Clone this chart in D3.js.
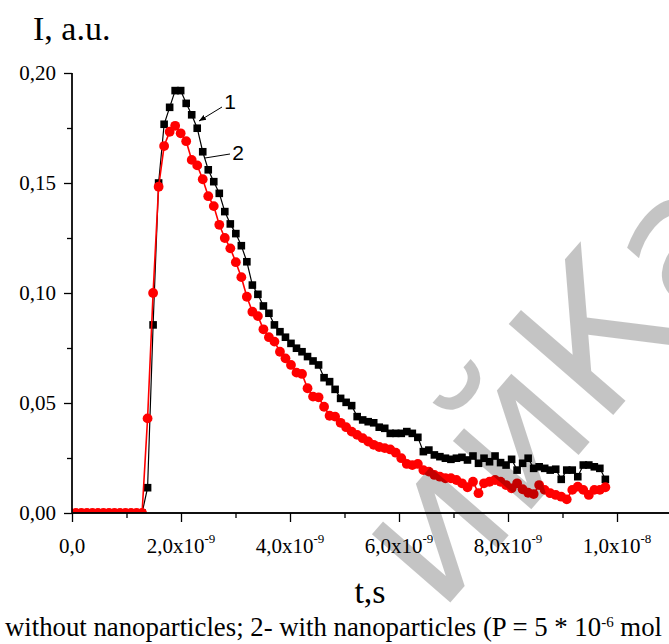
<!DOCTYPE html>
<html><head><meta charset="utf-8">
<script src="https://cdn.jsdelivr.net/npm/d3@7/dist/d3.min.js"></script>
</head><body style="margin:0;background:#fff">
<script>
// ---- data ----
const timeStart = -0.03e-9;   // s, first sample
const timeStep = 0.1012e-9;   // s, sampling interval
const series1 = [ // without nanoparticles (black squares)
 0,0,0,0,0,0,0,0,0,0,0,0,0,0,
 0.0115,0.0855,0.150,0.1767,0.1844,0.192,0.192,0.1862,0.181,0.1749,
 0.1642,0.156,0.1506,0.1453,0.137,0.1314,0.127,0.1215,0.1142,0.1036,
 0.0994,0.0941,0.0908,0.0855,0.0824,0.0799,0.0771,0.0749,0.0733,0.0711,
 0.0691,0.0673,0.0615,0.0597,0.0562,0.0521,0.0503,0.0488,0.0438,0.0423,
 0.0415,0.041,0.039,
 0.0385,0.0362,0.0362,0.0362,0.037,0.0362,0.0344,0.0279,0.0286,0.0264,
 0.0256,0.0249,0.0244,0.0249,0.0253,0.0241,0.0259,0.0226,0.0249,0.0233,
 0.0259,0.0229,0.0218,0.0244,0.0195,0.0226,0.0249,0.0203,0.021,0.0203,
 0.0195,0.0199,0.0153,0.0195,0.0195,0.0165,0.0218,0.0218,0.021,0.0203,
 0.0153
];
const series2 = [ // with nanoparticles (red circles)
 0,0,0,0,0,0,0,0,0,0,0,0,0,0,
 0.043,0.100,0.1483,0.1668,0.1733,0.176,0.1726,0.169,0.1605,0.158,
 0.1517,0.144,0.1395,0.131,0.125,0.1203,0.114,0.1072,0.0983,0.0915,
 0.0895,0.0835,0.0799,0.0779,0.0733,0.0703,0.0673,0.0638,0.0632,0.0567,
 0.0529,0.0526,0.0483,0.0442,0.0438,0.041,0.039,0.037,0.0355,0.034,
 0.0325,0.031,0.030,0.0295,
 0.0289,0.0274,0.0249,0.0223,0.0218,0.0223,0.0195,0.0188,0.0173,0.0165,
 0.0158,0.0158,0.015,0.0135,0.0117,0.0142,0.009,0.0135,0.0142,0.015,
 0.0142,0.0127,0.0112,0.0135,0.0108,0.0092,0.0086,0.0127,0.0105,0.009,
 0.0082,0.0074,0.0062,0.0105,0.012,0.0105,0.0082,0.0105,0.0105,0.0117
];
const xMajorTicks = [0, 2e-9, 4e-9, 6e-9, 8e-9, 1e-8];
const xTickMantissa = ["0,0", "2,0x10", "4,0x10", "6,0x10", "8,0x10", "1,0x10"];
const xTickExponent = ["", "-9", "-9", "-9", "-9", "-8"];
const xMinorTicks = [1e-9, 3e-9, 5e-9, 7e-9, 9e-9];
const yMajorTicks = [0, 0.05, 0.10, 0.15, 0.20];
const yTickLabels = ["0,00", "0,05", "0,10", "0,15", "0,20"];
const yMinorTicks = [0.025, 0.075, 0.125, 0.175];
const yTitle = "I, a.u.";
const xTitle = "t,s";
const caption = ["without nanoparticles; 2- with nanoparticles (P = 5 * 10", "-6", " mol"];
const curveLabels = ["1", "2"];
const watermarkLeft = "ий ";
const watermarkRight = "Ка";

// ---- drawing ----
const SERIF = "Liberation Serif";
const SANS = "Liberation Sans";
function setFont(sel, fam) { return sel.attr("font-family", fam).style("font-family", `"${fam}"`); }
const W = 669, H = 644;
const svg = d3.select("body").append("svg").attr("width", W).attr("height", H).style("display", "block");
const x = d3.scaleLinear().domain([0, 1.1e-8]).range([72, 671.5]);
const y = d3.scaleLinear().domain([0, 0.20]).range([513, 73]);

const t = series1.map((_, i) => timeStart + i * timeStep);
const d1 = series1.map((v, i) => [t[i], v]);
const d2 = series2.map((v, i) => [t[i], v]);

svg.append("clipPath").attr("id", "plot").append("rect")
  .attr("x", 72).attr("y", 0).attr("width", W - 72).attr("height", 513);

const g = svg.append("g").attr("clip-path", "url(#plot)");
const line = d3.line().x(d => x(d[0])).y(d => y(d[1]));
g.append("path").datum(d1).attr("d", line).attr("fill", "none").attr("stroke", "#000").attr("stroke-width", 1.2);
g.selectAll("rect.s1").data(d1).join("rect").attr("class", "s1")
  .attr("x", d => x(d[0]) - 3.8).attr("y", d => y(d[1]) - 3.8)
  .attr("width", 7.6).attr("height", 7.6).attr("fill", "#000");
g.append("path").datum(d2).attr("d", line).attr("fill", "none").attr("stroke", "#ff0000").attr("stroke-width", 1.6);
g.selectAll("circle.s2").data(d2).join("circle").attr("class", "s2")
  .attr("cx", d => x(d[0])).attr("cy", d => y(d[1])).attr("r", 4.9).attr("fill", "#ff0000");

// axes
const xAxis = svg.append("g").attr("transform", "translate(0,513)");
xAxis.call(d3.axisBottom(x).tickValues(xMajorTicks).tickSize(9).tickFormat(""));
xAxis.append("g").call(d3.axisBottom(x).tickValues(xMinorTicks).tickSize(5).tickFormat(""));
xAxis.selectAll("path").attr("stroke", "#000").attr("stroke-width", 1.3);
xAxis.selectAll("line").attr("stroke", "#000").attr("stroke-width", 1.3);
xAxis.selectAll(".domain").attr("d", `M${x(0)},0H${W}`);

const yAxis = svg.append("g").attr("transform", "translate(72,0)");
yAxis.call(d3.axisLeft(y).tickValues(yMajorTicks).tickSize(8).tickFormat(""));
yAxis.append("g").call(d3.axisLeft(y).tickValues(yMinorTicks).tickSize(5).tickFormat(""));
yAxis.selectAll("path").attr("stroke", "#000").attr("stroke-width", 1.3);
yAxis.selectAll("line").attr("stroke", "#000").attr("stroke-width", 1.3);
yAxis.selectAll(".domain").attr("d", `M0,${y(0.2)}V${y(0)}`);

// watermark (drawn first so it sits under the labels, translucent over marks)
const wm = svg.append("g").attr("transform", "translate(601,429) rotate(-49)")
  .attr("font-size", 190).attr("fill", "#000").attr("fill-opacity", 0.23);
setFont(wm.append("text").attr("text-anchor", "start"), "DejaVu Sans").text(watermarkRight);
setFont(wm.append("text").attr("text-anchor", "end"), "DejaVu Sans").text(watermarkLeft);

// tick labels
const xl = svg.append("g").selectAll("text").data(xMajorTicks).join("text")
  .attr("x", d => x(d)).attr("y", 553).attr("text-anchor", "middle")
  .attr("font-size", 21)
  .each(function(d, i) {
    const s = d3.select(this);
    s.append("tspan").text(xTickMantissa[i]);
    if (xTickExponent[i]) s.append("tspan").attr("dy", -10).attr("font-size", 13).text(xTickExponent[i]);
  });
setFont(xl, SERIF);
const yl = svg.append("g").selectAll("text").data(yMajorTicks).join("text")
  .attr("x", 56).attr("y", d => y(d) + 7).attr("text-anchor", "end")
  .attr("font-size", 21).text((d, i) => yTickLabels[i]);
setFont(yl, SERIF);

// titles
setFont(svg.append("text"), SERIF).attr("x", 33).attr("y", 40).attr("font-size", 34).text(yTitle);
setFont(svg.append("text"), SERIF).attr("x", 370).attr("y", 603).attr("text-anchor", "middle").attr("font-size", 34).text(xTitle);
const cap = setFont(svg.append("text"), SERIF).attr("x", 5).attr("y", 636).attr("font-size", 24);
cap.append("tspan").text(caption[0]);
cap.append("tspan").attr("dy", -9).attr("font-size", 15).text(caption[1]);
cap.append("tspan").attr("dy", 9).text(caption[2]);
// fit caption to the visible width as in the reference
const capW = cap.node().getComputedTextLength();
if (capW > 0) cap.attr("font-size", 24 * 659 / capW);

// curve labels with leader lines
svg.append("defs").append("marker").attr("id", "arr").attr("viewBox", "0 0 10 10")
  .attr("refX", 10).attr("refY", 5).attr("markerWidth", 7).attr("markerHeight", 7).attr("orient", "auto")
  .append("path").attr("d", "M0,1L10,5L0,9z").attr("fill", "#000");
svg.append("line").attr("x1", 222).attr("y1", 107).attr("x2", 199).attr("y2", 121)
  .attr("stroke", "#000").attr("stroke-width", 1).attr("marker-end", "url(#arr)");
setFont(svg.append("text"), SANS).attr("x", 230).attr("y", 109).attr("text-anchor", "middle").attr("font-size", 21).text(curveLabels[0]);
svg.append("line").attr("x1", 230).attr("y1", 154).attr("x2", 205).attr("y2", 158)
  .attr("stroke", "#000").attr("stroke-width", 1);
setFont(svg.append("text"), SANS).attr("x", 238).attr("y", 160).attr("text-anchor", "middle").attr("font-size", 21).text(curveLabels[1]);
</script>
</body></html>
